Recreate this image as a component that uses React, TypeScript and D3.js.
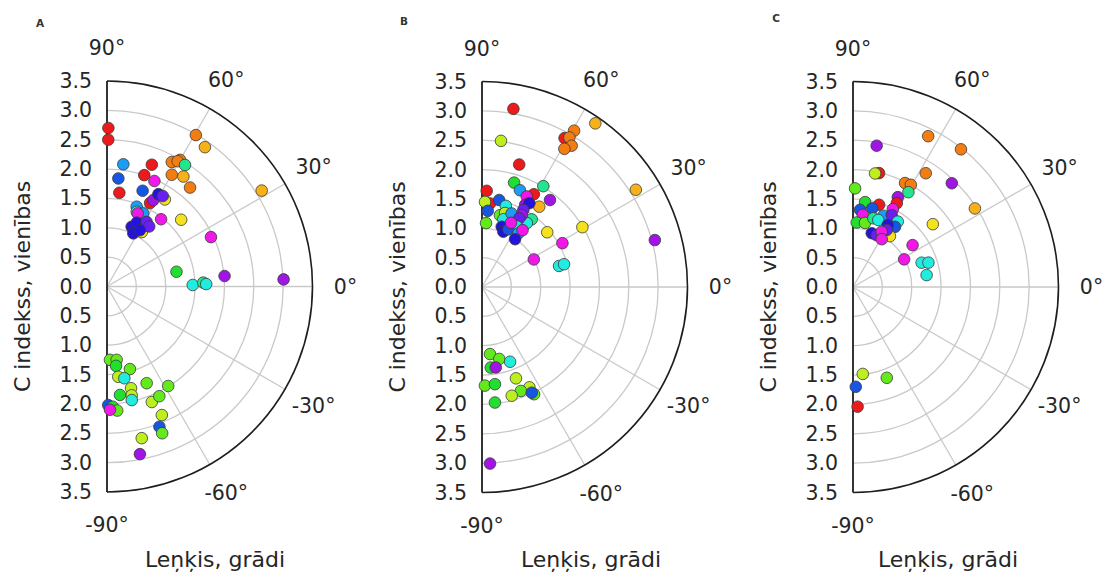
import * as d3 from 'd3';

// Polar scatter, three half-plots (angle -90..90 deg, C index 0..3.5)
// each point: [angle in degrees, C index, colour key]
type Pt = [number, number, string];

const PANEL_LETTERS = ['A', 'B', 'C'];
const RADIAL_TICKS = [0, 0.5, 1, 1.5, 2, 2.5, 3, 3.5];
const GRID_RINGS = [0.5, 1, 1.5, 2, 2.5, 3];
const SPOKES = [-60, -30, 0, 30, 60];
const ANGLE_LABELS = [90, 60, 30, 0, -30, -60, -90];
const Y_LABEL = 'C indekss, vienības';
const X_LABEL = 'Leņķis, grādi';

const COLORS: Record<string, string> = {
  r: '#ec1a1a',
  o: '#f47d12',
  yo: '#f7b21a',
  y: '#f4e21c',
  yg: '#bdee1e',
  g: '#62ea1c',
  gg: '#22de30',
  gc: '#22e58e',
  c: '#22ece0',
  lb: '#1c9cf2',
  b: '#1656e2',
  db: '#2412de',
  v: '#6a1ef0',
  p: '#a014e6',
  m: '#f018e6',
};

const pointsA: Pt[] = [
  [89.5, 2.7, 'r'], [89.5, 2.5, 'r'], [82.4, 2.1, 'lb'], [84.0, 1.85, 'b'],
  [82.5, 1.61, 'r'], [69.8, 2.21, 'r'], [71.5, 2.0, 'r'], [65.8, 1.97, 'm'],
  [69.6, 1.74, 'b'], [59.6, 2.99, 'o'], [54.9, 2.9, 'yo'], [62.5, 2.39, 'o'],
  [60.0, 2.49, 'o'], [60.6, 2.45, 'o'], [57.3, 2.46, 'gc'], [59.9, 2.2, 'o'],
  [55.2, 2.28, 'yo'], [50.0, 2.2, 'o'], [31.8, 3.1, 'yo'], [62.7, 1.6, 'r'],
  [56.4, 1.78, 'y'], [61.8, 1.67, 'p'], [60.9, 1.8, 'db'], [58.4, 1.81, 'v'],
  [69.6, 1.45, 'lb'], [68.3, 1.37, 'c'], [63.6, 1.39, 'lb'], [67.2, 1.35, 'm'],
  [51.2, 1.47, 'm'], [42.0, 1.7, 'y'], [57.4, 1.1, 'y'], [59.0, 1.2, 'b'],
  [67.6, 1.1, 'db'], [65.0, 1.2, 'db'], [58.5, 1.29, 'v'], [54.9, 1.25, 'v'],
  [63.7, 1.01, 'db'], [59.7, 1.11, 'db'], [25.4, 1.96, 'm'], [12.0, 1.21, 'gg'],
  [1.0, 1.46, 'c'], [2.3, 1.64, 'gc'], [1.4, 1.69, 'c'], [5.1, 2.01, 'p'],
  [2.3, 3.01, 'p'],
  [-87.7, 1.25, 'g'], [-82.5, 1.26, 'g'], [-83.5, 1.36, 'gg'], [-74.5, 1.46, 'g'],
  [-82.9, 1.55, 'yg'], [-79.3, 1.59, 'c'], [-67.7, 1.78, 'g'], [-58.4, 1.99, 'g'],
  [-76.7, 1.78, 'yg'], [-77.2, 1.9, 'yg'], [-77.7, 1.98, 'c'], [-83.2, 1.86, 'gg'],
  [-68.8, 2.11, 'yg'], [-64.5, 2.07, 'g'], [-89.4, 2.02, 'b'], [-87.3, 2.05, 'gg'],
  [-85.3, 2.12, 'g'], [-88.6, 2.1, 'm'], [-66.9, 2.38, 'yg'], [-69.5, 2.55, 'b'],
  [-69.4, 2.67, 'g'], [-77.1, 2.65, 'yg'], [-78.9, 2.91, 'p'],
];

const pointsB: Pt[] = [
  [80.0, 3.08, 'r'], [82.6, 2.51, 'yg'], [73.1, 2.18, 'r'], [55.3, 3.39, 'yo'],
  [59.5, 3.09, 'o'], [61.0, 2.9, 'r'], [59.7, 2.95, 'o'], [57.6, 2.85, 'o'],
  [59.2, 2.74, 'o'], [32.3, 3.1, 'yo'], [15.2, 3.05, 'p'], [30.8, 1.99, 'y'],
  [40.0, 1.45, 'y'], [28.6, 1.56, 'm'], [28.0, 1.0, 'm'], [15.3, 1.36, 'c'],
  [15.5, 1.45, 'c'], [58.7, 2.01, 'gc'], [52.0, 1.88, 'p'], [54.5, 1.68, 'yo'],
  [60.8, 1.81, 'r'], [72.9, 1.86, 'gg'], [68.6, 1.77, 'lb'], [87.2, 1.64, 'r'],
  [84.5, 1.43, 'r'], [88.0, 1.45, 'yg'], [85.7, 1.3, 'b'], [86.4, 1.09, 'g'],
  [78.8, 1.51, 'b'], [73.6, 1.44, 'c'], [63.7, 1.72, 'm'], [62.3, 1.58, 'p'],
  [60.5, 1.64, 'db'], [61.8, 1.49, 'v'], [76.0, 1.26, 'g'], [72.7, 1.32, 'yg'],
  [72.5, 1.21, 'c'], [68.1, 1.35, 'lb'], [53.7, 1.43, 'gc'], [55.0, 1.33, 'c'],
  [61.1, 1.4, 'p'], [61.5, 1.33, 'v'], [60.1, 1.19, 'c'], [71.9, 1.08, 'db'],
  [68.9, 1.01, 'db'], [65.5, 1.08, 'b'], [65.7, 1.2, 'm'], [55.9, 1.1, 'lb'],
  [54.5, 1.19, 'm'], [55.3, 0.99, 'db'],
  [-83.2, 1.15, 'g'], [-76.5, 1.26, 'g'], [-69.4, 1.36, 'c'], [-83.8, 1.38, 'gg'],
  [-80.3, 1.39, 'p'], [-69.6, 1.66, 'yg'], [-88.3, 1.68, 'g'], [-82.4, 1.67, 'gg'],
  [-64.7, 1.89, 'yg'], [-69.5, 1.89, 'g'], [-74.7, 1.92, 'yg'], [-64.1, 2.03, 'g'],
  [-64.8, 1.99, 'b'], [-83.6, 1.98, 'gg'], [-87.4, 3.01, 'p'],
];

const pointsC: Pt[] = [
  [63.5, 2.87, 'o'], [51.9, 2.98, 'o'], [57.4, 2.3, 'o'], [46.4, 2.44, 'p'],
  [32.8, 2.47, 'yo'], [38.2, 1.73, 'y'], [35.1, 1.24, 'm'], [28.4, 0.99, 'm'],
  [19.5, 1.24, 'c'], [17.9, 1.35, 'c'], [9.2, 1.27, 'c'], [80.5, 2.44, 'p'],
  [77.1, 1.99, 'r'], [79.0, 1.97, 'yg'], [63.4, 1.98, 'o'], [60.5, 2.0, 'o'],
  [59.7, 1.87, 'gc'], [88.8, 1.68, 'g'], [63.5, 1.71, 'p'], [62.4, 1.61, 'r'],
  [62.9, 1.49, 'm'], [72.4, 1.47, 'r'], [81.9, 1.46, 'gg'], [84.8, 1.32, 'b'],
  [76.2, 1.38, 'b'], [82.3, 1.24, 'm'], [86.7, 1.1, 'gg'], [79.4, 1.11, 'g'],
  [73.5, 1.22, 'gc'], [66.9, 1.32, 'lb'], [69.3, 1.22, 'c'], [61.7, 1.39, 'v'],
  [55.6, 1.35, 'c'], [55.1, 1.25, 'b'], [60.8, 1.21, 'db'], [54.0, 1.07, 'y'],
  [59.4, 1.13, 'v'], [70.8, 0.97, 'db'], [65.5, 0.97, 'v'], [62.6, 1.06, 'm'],
  [59.0, 0.95, 'm'],
  [-83.6, 1.49, 'yg'], [-69.6, 1.65, 'g'], [-88.4, 1.7, 'b'], [-87.8, 2.04, 'r'],
];

const PANELS = [pointsA, pointsB, pointsC];

const WIDTH = 1102;
const HEIGHT = 575;
const FONT = '"DejaVu Sans", sans-serif';
const GRID_COLOR = '#c9c9c9';
const AXIS_COLOR = '#1e1e1e';

// layout of each half-circle (pixel centre)
const centers = [
  { cx: 107, cy: 286.5, letterX: 40, letterY: 23, xLabelX: 215 },
  { cx: 482, cy: 287, letterX: 404, letterY: 21, xLabelX: 591 },
  { cx: 853, cy: 287, letterX: 776, letterY: 18, xLabelX: 948 },
];
const OUTER_R = 205.5;

const rScale = d3.scaleLinear().domain([0, 3.5]).range([0, OUTER_R]);
const toRad = (deg: number) => (deg * Math.PI) / 180;

function Panel({ idx }: { idx: number }) {
  const { cx, cy, letterX, letterY, xLabelX } = centers[idx];
  const pts = PANELS[idx];

  // d3.arc angles run clockwise from 12 o'clock: right half = 0..PI
  const ringArc = (r: number) =>
    d3.arc()({ innerRadius: rScale(r), outerRadius: rScale(r), startAngle: 0, endAngle: Math.PI }) as string;

  const labelR = rScale(3.5) + 33;

  return (
    <g>
      <text x={letterX} y={letterY} fontFamily={FONT} fontSize={10.5} fontWeight="bold" fill="#333" textAnchor="middle" dominantBaseline="central">
        {PANEL_LETTERS[idx]}
      </text>

      <g transform={`translate(${cx},${cy})`}>
        {/* grid rings */}
        {GRID_RINGS.map((r) => (
          <path key={r} d={ringArc(r)} fill="none" stroke={GRID_COLOR} strokeWidth={1.3} />
        ))}
        {/* spokes */}
        {SPOKES.map((a) => (
          <line
            key={a}
            x1={0}
            y1={0}
            x2={rScale(3.5) * Math.cos(toRad(a))}
            y2={-rScale(3.5) * Math.sin(toRad(a))}
            stroke={GRID_COLOR}
            strokeWidth={1.3}
          />
        ))}
        {/* frame */}
        <path d={ringArc(3.5)} fill="none" stroke={AXIS_COLOR} strokeWidth={1.6} />
        <line x1={0} y1={-rScale(3.5)} x2={0} y2={rScale(3.5)} stroke={AXIS_COLOR} strokeWidth={1.8} />

        {/* radial tick labels, mirrored above and below centre */}
        {RADIAL_TICKS.flatMap((t) => (t === 0 ? [0] : [-1, 1]).map((s) => (
          <text
            key={`${t}-${s}`}
            x={-15}
            y={s * rScale(t)}
            fontFamily={FONT}
            fontSize={20.5}
            fill="#262626"
            textAnchor="end"
            dominantBaseline="central"
          >
            {d3.format('.1f')(t)}
          </text>
        )))}

        {/* angle labels */}
        {ANGLE_LABELS.map((a) => (
          <text
            key={a}
            x={labelR * Math.cos(toRad(a))}
            y={-labelR * Math.sin(toRad(a))}
            fontFamily={FONT}
            fontSize={20.5}
            fill="#262626"
            textAnchor="middle"
            dominantBaseline="central"
          >
            {`${a}°`}
          </text>
        ))}

        {/* points */}
        {pts.map(([a, r, c], i) => (
          <circle
            key={i}
            cx={rScale(r) * Math.cos(toRad(a))}
            cy={-rScale(r) * Math.sin(toRad(a))}
            r={5.8}
            fill={COLORS[c]}
            stroke="#3a3a3a"
            strokeWidth={0.8}
          />
        ))}

        <text
          transform={`translate(-85,0) rotate(-90)`}
          fontFamily={FONT}
          fontSize={22}
          fill="#262626"
          textAnchor="middle"
          dominantBaseline="central"
        >
          {Y_LABEL}
        </text>
      </g>

      <text x={xLabelX} y={559} fontFamily={FONT} fontSize={22} fill="#262626" textAnchor="middle" dominantBaseline="central">
        {X_LABEL}
      </text>
    </g>
  );
}

export default function App() {
  return (
    <svg
      width={WIDTH}
      height={HEIGHT}
      viewBox={`0 0 ${WIDTH} ${HEIGHT}`}
      style={{ position: 'absolute', left: 0, top: 0, background: '#fff', display: 'block' }}
    >
      <rect width={WIDTH} height={HEIGHT} fill="#fff" />
      {PANELS.map((_, i) => (
        <Panel key={i} idx={i} />
      ))}
    </svg>
  );
}
